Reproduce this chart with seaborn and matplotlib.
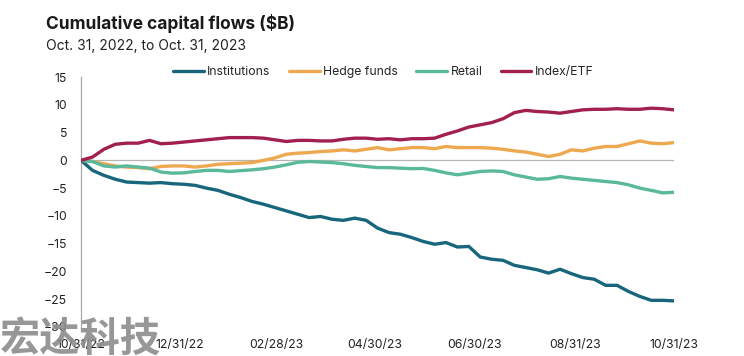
import pandas as pd
import matplotlib
matplotlib.use("Agg")
import matplotlib.pyplot as plt
import matplotlib.dates as mdates
from matplotlib.lines import Line2D
import seaborn as sns

# weekly cumulative flows, $B
dates = pd.date_range("2022-10-31", "2023-10-31", periods=53)
institutions = [0, -1.8, -2.7, -3.4, -3.9, -4.0, -4.1, -4.0, -4.2, -4.3,
                -4.5, -5.0, -5.4, -6.1, -6.7, -7.4, -7.9, -8.5, -9.1, -9.7,
                -10.3, -10.1, -10.6, -10.8, -10.4, -10.8, -12.2, -13.0, -13.3, -13.9,
                -14.6, -15.1, -14.8, -15.6, -15.5, -17.4, -17.8, -18.0, -18.9, -19.3,
                -19.7, -20.3, -19.6, -20.4, -21.1, -21.4, -22.5, -22.5, -23.6, -24.5,
                -25.2, -25.2, -25.3]
hedge_funds = [0, -0.2, -0.6, -1.0, -1.2, -1.3, -1.5, -1.1, -1.0, -1.0,
               -1.2, -1.0, -0.7, -0.6, -0.5, -0.4, 0.0, 0.45, 1.1, 1.3,
               1.4, 1.6, 1.7, 1.9, 1.7, 2.0, 2.3, 1.9, 2.1, 2.3,
               2.3, 2.1, 2.5, 2.3, 2.3, 2.3, 2.2, 2.0, 1.7, 1.5,
               1.1, 0.7, 1.1, 1.9, 1.7, 2.2, 2.5, 2.5, 3.0, 3.5,
               3.1, 3.0, 3.2]
retail = [0, -0.2, -1.0, -1.2, -1.0, -1.2, -1.4, -2.1, -2.3, -2.25,
          -2.0, -1.8, -1.8, -2.0, -1.85, -1.7, -1.5, -1.2, -0.8, -0.35,
          -0.2, -0.3, -0.4, -0.6, -0.9, -1.1, -1.3, -1.3, -1.4, -1.5,
          -1.45, -1.8, -2.25, -2.6, -2.3, -2.0, -1.9, -2.0, -2.6, -3.0,
          -3.4, -3.3, -2.9, -3.2, -3.4, -3.6, -3.8, -4.0, -4.4, -5.0,
          -5.4, -5.85, -5.75]
index_etf = [0, 0.6, 2.0, 2.9, 3.1, 3.1, 3.6, 3.0, 3.1, 3.3,
             3.5, 3.7, 3.9, 4.1, 4.1, 4.1, 4.0, 3.7, 3.4, 3.6,
             3.6, 3.5, 3.5, 3.8, 4.0, 4.0, 3.8, 3.9, 3.7, 3.9,
             3.9, 4.0, 4.7, 5.3, 6.0, 6.4, 6.8, 7.5, 8.6, 9.0,
             8.8, 8.7, 8.5, 8.8, 9.1, 9.2, 9.2, 9.3, 9.2, 9.2,
             9.4, 9.3, 9.1]

series = ["Institutions", "Hedge funds", "Retail", "Index/ETF"]
colors = ["#17667c", "#eea84f", "#5bb99b", "#a1204f"]
tick_dates = ["2022-10-31", "2022-12-31", "2023-02-28", "2023-04-30",
              "2023-06-30", "2023-08-31", "2023-10-31"]

df = pd.DataFrame({"date": dates, "Institutions": institutions,
                   "Hedge funds": hedge_funds, "Retail": retail,
                   "Index/ETF": index_etf})
long = df.melt(id_vars="date", var_name="series", value_name="flow")

sns.set_style("white")
plt.rcParams["font.family"] = ["Inter", "DejaVu Sans"]

fig = plt.figure(figsize=(7.44, 3.56), dpi=100)
ax = fig.add_axes([0.109, 0.0815, 0.797, 0.702])
ax.axhline(0, color="#b5b5b5", lw=0.9, zorder=1)
sns.lineplot(data=long, x="date", y="flow", hue="series", hue_order=series,
             palette=colors, lw=2.4, legend=False, ax=ax, zorder=3)

ax.set_xlim(dates[0], dates[-1])
ax.set_ylim(-30, 15)
ax.set_yticks(range(-30, 16, 5))
ax.set_xticks(pd.to_datetime(tick_dates))
ax.xaxis.set_major_formatter(mdates.DateFormatter("%m/%d/%y"))
ax.set_xlabel("")
ax.set_ylabel("")
ax.tick_params(length=0, labelsize=8.8, colors="#222222")
ax.tick_params(axis="y", pad=10)
ax.tick_params(axis="x", pad=9)
for s in ["top", "right", "bottom"]:
    ax.spines[s].set_visible(False)
ax.spines["left"].set_color("#a8a8a8")
ax.spines["left"].set_linewidth(0.9)

handles = [Line2D([0], [0], color=c, lw=2.4) for c in colors]
ax.legend(handles, series, loc="lower center", bbox_to_anchor=(0.51, 0.975),
          ncol=4, frameon=False, fontsize=8.8, handlelength=2.5,
          handletextpad=0.3, columnspacing=1.5, borderaxespad=0)

fig.text(0.062, 0.935, "Cumulative capital flows ($B)", fontsize=12.5,
         fontweight="bold", color="#1a1a1a", va="center")
fig.text(0.062, 0.87, "Oct. 31, 2022, to Oct. 31, 2023", fontsize=10,
         color="#222222", va="center")

# watermark
fig.text(0.0, -0.01, "宏达科技", fontsize=29, fontweight="heavy",
         color="#8c8c8c", alpha=0.9, va="bottom", ha="left",
         family=["Noto Sans CJK SC", "DejaVu Sans"], zorder=10)

fig.savefig("out.png", dpi=100)
